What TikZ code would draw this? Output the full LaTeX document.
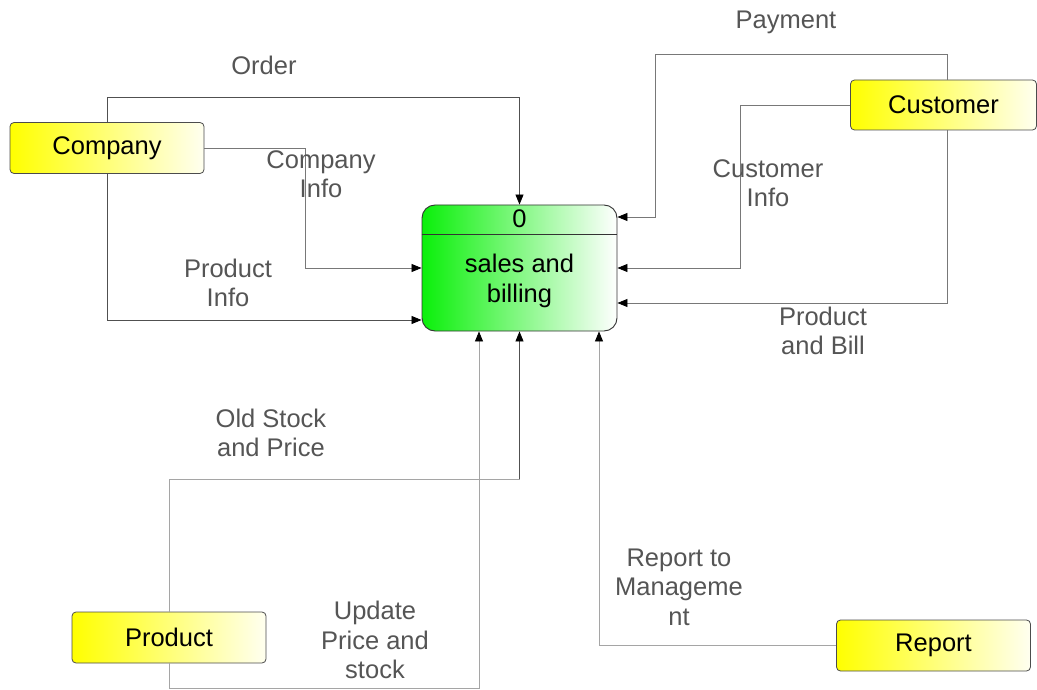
\documentclass[tikz,border=0pt]{standalone}
\usepackage{fontspec}
\setmainfont{Liberation Sans}
\usetikzlibrary{arrows.meta}
\definecolor{pgreen}{RGB}{10,240,10}
\definecolor{entwhite}{RGB}{255,255,240}
\definecolor{lndark}{RGB}{80,80,80}
\definecolor{lnmid}{RGB}{120,120,120}
\definecolor{lnlight}{RGB}{165,165,165}
\definecolor{lbltext}{RGB}{85,85,85}
\pgfdeclarehorizontalshading{entshade}{100bp}{color(0bp)=(yellow); color(25bp)=(yellow); color(75bp)=(entwhite); color(100bp)=(entwhite)}
\pgfdeclarehorizontalshading{procshade}{100bp}{color(0bp)=(pgreen); color(25bp)=(pgreen); color(75bp)=(white); color(100bp)=(white)}
\begin{document}
\begin{tikzpicture}[x=1pt,y=-1pt,
  ent/.style={draw=black!70, line width=0.8pt, rounded corners=4pt, shading=entshade,
    minimum width=194pt, minimum height=51pt, inner sep=0pt,
    font=\fontsize{25.5}{29}\selectfont},
  procbox/.style={draw=black!80, line width=0.9pt, rounded corners=13pt, shading=procshade,
    minimum width=195pt, minimum height=126pt, inner sep=0pt},
  proctext/.style={font=\fontsize{25.5}{30}\selectfont, align=center, inner sep=0pt},
  wire/.style={draw=#1, line width=0.8pt},
  wire/.default=lnmid,
  flow/.style={draw=#1, line width=0.8pt, -{Triangle[length=10pt,width=8pt,color=black]}},
  flow/.default=lnmid,
  lbl/.style={text=lbltext, font=\fontsize{25.5}{29.5}\selectfont, align=center, inner sep=0pt}
]
\useasboundingbox (0,0) rectangle (1037,690);

% nodes
\node[ent] (company) at (107,148) {Company};
\node[ent, minimum width=186pt, minimum height=50pt] (customer) at (943.5,105) {Customer};
\node[ent] (product) at (169,637.5) {Product};
\node[ent] (report) at (933.5,645.5) {Report};
\node[procbox] (proc) at (519.5,268) {};
\node[proctext] (pnum) at (519.5,219) {0};
\draw[black!80, line width=0.9pt] (proc.west |- 0,234) -- (proc.east |- 0,234);
\node[proctext] (ptext) at (519.5,281) {sales and\\billing};

% helper coordinates
\coordinate (ci) at (305,268);
\coordinate (pay) at (655,54);
\coordinate (cinf) at (740,268);
\coordinate (os) at (proc.south |- 0,479);
\coordinate (up) at (479,688);

% connectors
\draw[flow=lndark] (company.north) -- (company.north |- 0,97) -| (proc.north);
\draw[flow=lnmid] (company.east) -| (ci) -- (ci -| proc.west);
\draw[flow=lndark] (company.south) |- (proc.west |- 0,320);
\draw[flow=lnmid] ([xshift=3.5pt]customer.north) |- (pay) |- (proc.east |- 0,217);
\draw[flow=lnmid] (customer.west) -| (cinf) -- (cinf -| proc.east);
\draw[flow=lnmid] ([xshift=3.5pt]customer.south) |- (proc.east |- 0,303);
\draw[wire=lnlight] (product.north) |- (os);
\draw[flow=lndark] (os) -- (proc.south);
\draw[flow=lnlight] (product.south) |- (up) -- (up |- proc.south);
\draw[flow=lnlight] (report.west) -| (proc.south -| 599,0);

% labels
\node[lbl] (lorder) at (264,65) {Order};
\node[lbl] (lpay) at (786,22) {Payment};
\node[lbl] (lcinfo) at (321,174) {Company\\Info};
\node[lbl] (lpinfo) at (228,283) {Product\\Info};
\node[lbl] (lcust) at (768,183) {Customer\\Info};
\node[lbl] (lpb) at (823,331) {Product\\and Bill};
\node[lbl] (los) at (271,433) {Old Stock\\and Price};
\node[lbl] (lup) at (375,640) {Update\\Price and\\stock};
\node[lbl] (lrep) at (679,587) {Report to\\Manageme\\nt};
\end{tikzpicture}
\end{document}
